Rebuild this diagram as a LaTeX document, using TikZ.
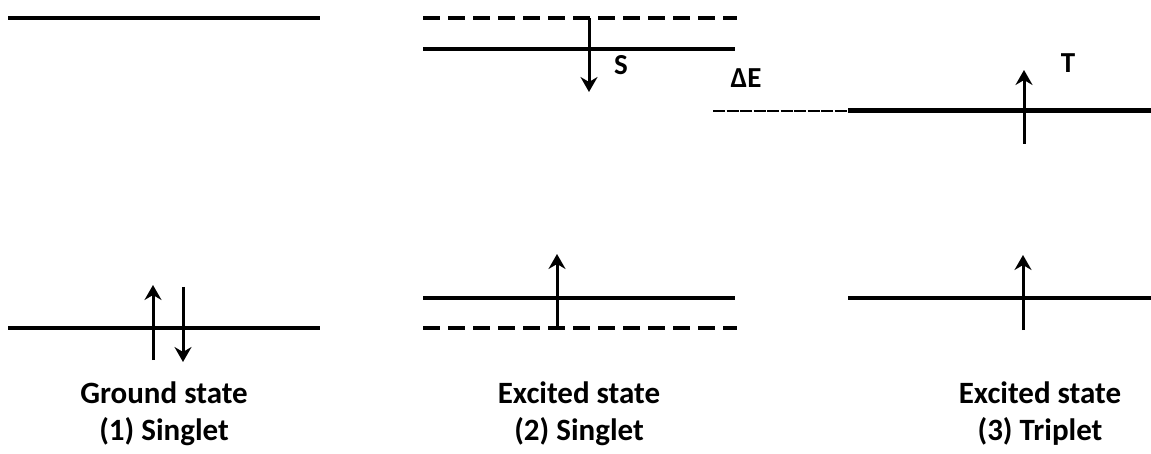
\documentclass[tikz,border=0pt]{standalone}
\usepackage{fontspec}
\setmainfont{Carlito}
\usetikzlibrary{arrows.meta}
\begin{document}
\begin{tikzpicture}[x=1pt,y=-1pt,
  level/.style={line width=3.6pt},
  dlevel/.style={line width=3.6pt,dash pattern=on 17pt off 8pt},
  thinlevel/.style={line width=2.5pt,dash pattern=on 12pt off 1.5pt},
  thicklevel/.style={line width=5pt},
  spin/.style={line width=3pt,-{Stealth[length=15pt,width=17pt,inset=5pt]}},
  lbl/.style={font=\bfseries\fontsize{31}{37}\selectfont,align=center},
  sym/.style={font=\bfseries\fontsize{29}{33}\selectfont}]
\useasboundingbox (0,0) rectangle (1151,454);
% panel 1
\coordinate (g1a) at (8,18); \coordinate (g1b) at (320,18);
\coordinate (g0a) at (8,328); \coordinate (g0b) at (320,328);
\draw[level] (g1a) -- (g1b);
\draw[level] (g0a) -- (g0b);
\coordinate (u1s) at (153,360); \coordinate (u1e) at (153,285);
\coordinate (d1s) at (183,287); \coordinate (d1e) at (183,362);
\draw[spin] (u1s) -- (u1e);
\draw[spin] (d1s) -- (d1e);
\node[lbl] (lab1) at (164,414) {Ground state\\(1) Singlet};
% panel 2
\coordinate (e2da) at (423,18); \coordinate (e2db) at (737,18);
\coordinate (e2a) at (423,49); \coordinate (e2b) at (735,49);
\draw[dlevel] (e2da) -- (e2db);
\draw[level] (e2a) -- (e2b);
\coordinate (d2c) at (583,18); \coordinate (d2s) at (589,18); \coordinate (d2e) at (589,92);
\draw[line width=3pt] (d2c) -- (d2s);
\draw[spin] (d2s) -- (d2e);
\node[sym] (S) at (621,65) {S};
\coordinate (b2a) at (423,298); \coordinate (b2b) at (735,298);
\coordinate (b2da) at (423,328); \coordinate (b2db) at (737,328);
\draw[level] (b2a) -- (b2b);
\draw[dlevel] (b2da) -- (b2db);
\coordinate (u2s) at (557,328); \coordinate (u2e) at (557,254);
\coordinate (u2l) at (551,328); \coordinate (u2r) at (563,328);
\draw[line width=3pt] (u2l) -- (u2r);
\draw[spin] (u2s) -- (u2e);
\node[lbl] (lab2) at (579,414) {Excited state\\(2) Singlet};
% panel 3
\node[sym] (dE) at (746,78) {ΔE};
\coordinate (t3da) at (713,111); \coordinate (t3db) at (848,111);
\coordinate (t3b) at (1151,111);
\draw[thinlevel] (t3da) -- (t3db);
\draw[thicklevel] (t3db) -- (t3b);
\coordinate (u3s) at (1024,144); \coordinate (u3e) at (1024,70);
\draw[spin] (u3s) -- (u3e);
\node[sym] (T) at (1068,63) {T};
\coordinate (b3a) at (848,298); \coordinate (b3b) at (1151,298);
\draw[level] (b3a) -- (b3b);
\coordinate (u4s) at (1023,330); \coordinate (u4e) at (1023,255);
\draw[spin] (u4s) -- (u4e);
\node[lbl] (lab3) at (1040,414) {Excited state\\(3) Triplet};
\end{tikzpicture}
\end{document}
